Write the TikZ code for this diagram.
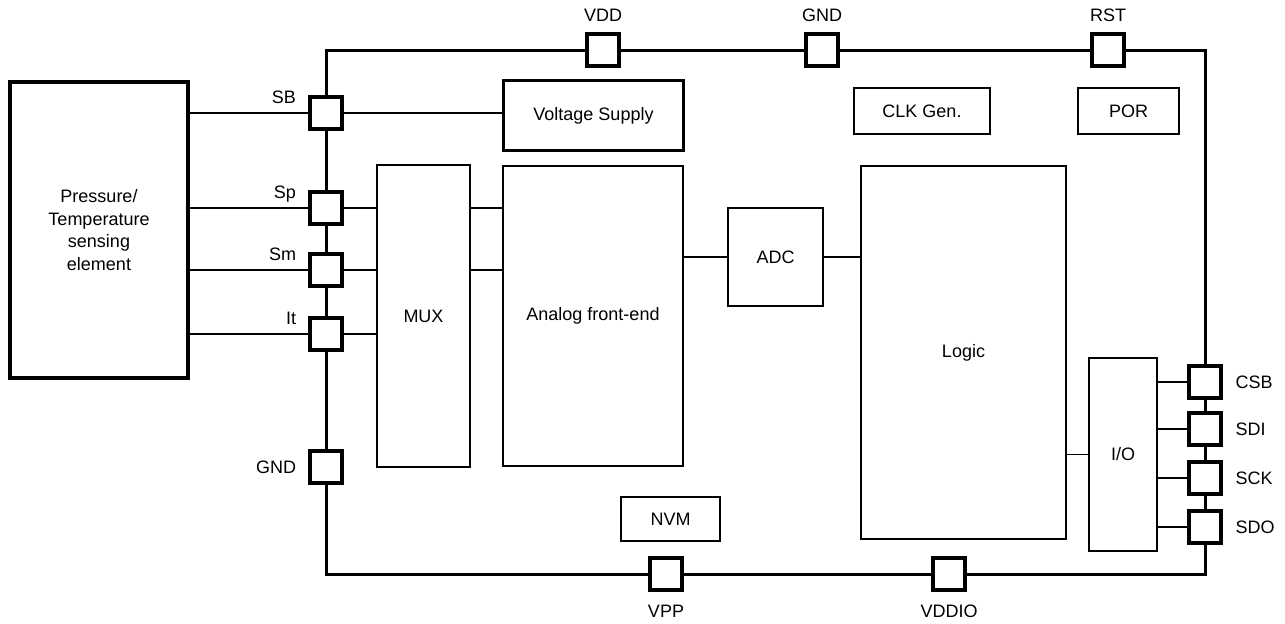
\documentclass[tikz,border=0pt]{standalone}
\usepackage{fontspec}
\setmainfont{Liberation Sans}
\usetikzlibrary{positioning}

\begin{document}
\begin{tikzpicture}[
    x=0.5pt, y=-0.5pt,
    block/.style={rectangle, draw, line width=1.4pt, inner sep=0pt, align=center, font=\fontsize{9}{11.3}\selectfont},
    smallblock/.style={block, line width=1.2pt},
    pad/.style={rectangle, draw, line width=1.6pt, minimum size=16pt, inner sep=0pt},
    lab/.style={inner sep=1pt, text depth=0pt, font=\fontsize{9}{11}\selectfont},
    frame/.style={line width=1.5pt},
    wire/.style={line width=0.85pt},
]
\useasboundingbox (0,0) rectangle (1285,623);

% Blocks
\node[block, line width=2pt, minimum width=89pt, minimum height=148pt] (sensor) at (99,230) {Pressure/\\Temperature\\sensing\\element};
\node[block, minimum width=90pt, minimum height=35pt] (vsup) at (593.5,115.5) {Voltage Supply};
\node[block, line width=0.6pt, minimum width=46.5pt, minimum height=151pt] (mux) at (423.5,316) {MUX};
\node[block, minimum width=90pt, minimum height=150pt] (afe) at (593,316) {Analog front-end};
\node[block, minimum width=47.5pt, minimum height=49pt] (adc) at (775.5,257) {ADC};
\node[block, minimum width=102.5pt, minimum height=186.5pt] (logic) at (963.5,352.5) {Logic};
\node[block, minimum width=34pt, minimum height=96.5pt] (io) at (1123,454.5) {I/O};
\node[smallblock, minimum width=68pt, minimum height=23pt] (clk) at (922,111) {CLK Gen.};
\node[smallblock, minimum width=50.5pt, minimum height=23pt] (por) at (1128.5,111) {POR};
\node[smallblock, minimum width=49.5pt, minimum height=22pt] (nvm) at (670.5,519) {NVM};

% Pads
\node[pad] (sb) at (326,113) {};
\node[pad] (sp) at (326,208) {};
\node[pad] (sm) at (326,270) {};
\node[pad] (it) at (326,334) {};
\node[pad] (gndl) at (326,467) {};
\node[pad] (vdd) at (603,50) {};
\node[pad] (gndt) at (822,50) {};
\node[pad] (rst) at (1108,50) {};
\node[pad] (vpp) at (666,574) {};
\node[pad] (vddio) at (949,574) {};
\node[pad] (csb) at (1205,382) {};
\node[pad] (sdi) at (1205,429) {};
\node[pad] (sck) at (1205,478) {};
\node[pad] (sdo) at (1205,527) {};

% Pad labels
\node[lab, above left=3.5pt and 5pt of sb.west] (sblab) {SB};
\node[lab, above left=3.5pt and 5pt of sp.west] (splab) {Sp};
\node[lab, above left=3.5pt and 5pt of sm.west] (smlab) {Sm};
\node[lab, above left=3.5pt and 5pt of it.west] (itlab) {It};
\node[lab, left=5pt of gndl] (gndllab) {GND};
\node[lab, above=4.5pt of vdd] (vddlab) {VDD};
\node[lab, above=4.5pt of gndt] (gndtlab) {GND};
\node[lab, above=4.5pt of rst] (rstlab) {RST};
\node[lab, below=5.5pt of vpp] (vpplab) {VPP};
\node[lab, below=5.5pt of vddio] (vddiolab) {VDDIO};
\node[lab, right=5.25pt of csb] (csblab) {CSB};
\node[lab, right=5.25pt of sdi] (sdilab) {SDI};
\node[lab, right=5.25pt of sck] (scklab) {SCK};
\node[lab, right=5.25pt of sdo] (sdolab) {SDO};

% Chip frame
\draw[frame] (vdd.west) -| (sb.north);
\draw[frame] (sb.south) -- (sp.north);
\draw[frame] (sp.south) -- (sm.north);
\draw[frame] (sm.south) -- (it.north);
\draw[frame] (it.south) -- (gndl.north);
\draw[frame] (gndl.south) |- (vpp.west);
\draw[frame] (vpp.east) -- (vddio.west);
\draw[frame] (vddio.east) -| (sdo.south);
\draw[frame] (sdo.north) -- (sck.south);
\draw[frame] (sck.north) -- (sdi.south);
\draw[frame] (sdi.north) -- (csb.south);
\draw[frame] (csb.north) |- (rst.east);
\draw[frame] (rst.west) -- (gndt.east);
\draw[frame] (gndt.west) -- (vdd.east);

% Wires
\draw[wire] (sensor.east |- sb) -- (sb.west);
\draw[wire] (sensor.east |- sp) -- (sp.west);
\draw[wire] (sensor.east |- sm) -- (sm.west);
\draw[wire] (sensor.east |- it) -- (it.west);
\draw[wire] (sb.east) -- (sb -| vsup.west);
\draw[wire] (sp.east) -- (sp -| mux.west);
\draw[wire] (sm.east) -- (sm -| mux.west);
\draw[wire] (it.east) -- (it -| mux.west);
\draw[wire] (sp -| mux.east) -- (sp -| afe.west);
\draw[wire] (sm -| mux.east) -- (sm -| afe.west);
\draw[wire] (adc.west -| afe.east) -- (adc.west);
\draw[wire] (adc.east) -- (adc.east -| logic.west);
\draw[wire] (io.west -| logic.east) -- (io.west);
\draw[wire] (csb -| io.east) -- (csb.west);
\draw[wire] (sdi -| io.east) -- (sdi.west);
\draw[wire] (sck -| io.east) -- (sck.west);
\draw[wire] (sdo -| io.east) -- (sdo.west);

\end{tikzpicture}
\end{document}
